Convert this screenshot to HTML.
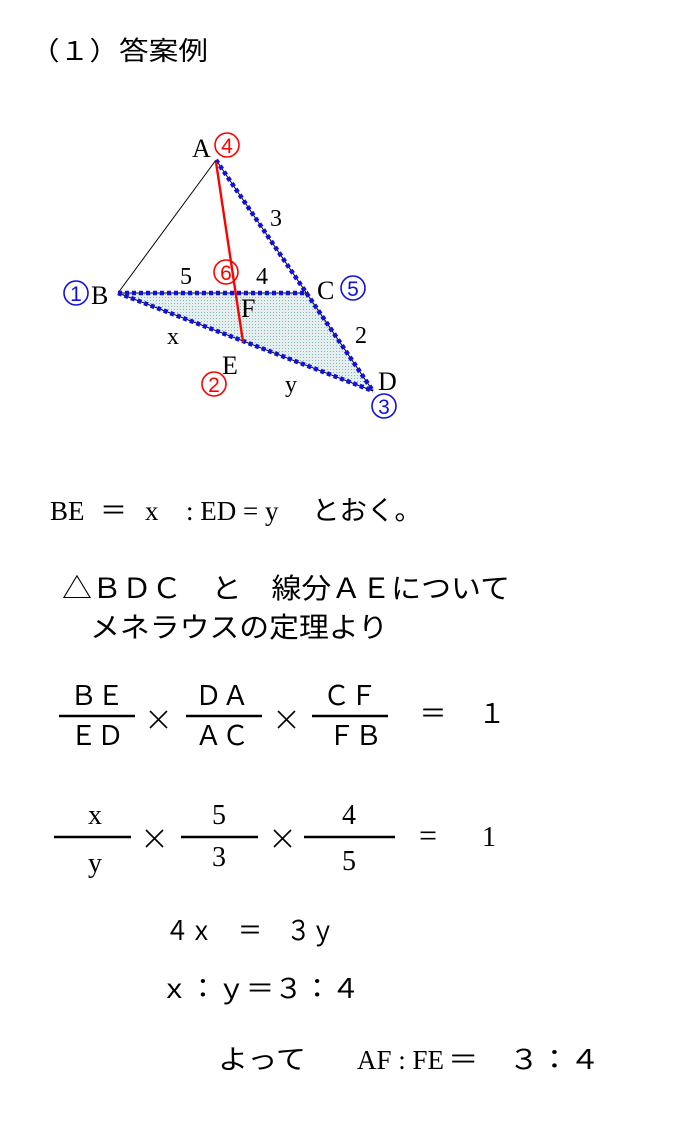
<!DOCTYPE html>
<html><head><meta charset="utf-8"><style>
html,body{margin:0;padding:0;background:#fff;}
svg{display:block;}
.j{font-family:"Liberation Sans","Noto Sans CJK JP",sans-serif;}
.s{font-family:"Liberation Serif","Noto Serif CJK SC",serif;}
</style></head><body>
<svg width="700" height="1126" viewBox="0 0 700 1126" xmlns="http://www.w3.org/2000/svg">
<defs>
<pattern id="dots" width="3" height="3" patternUnits="userSpaceOnUse">
<rect width="3" height="3" fill="#e6eeee"/><rect width="1" height="1" fill="#7fb8c0"/>
</pattern>
</defs>
<text class="j" x="30" y="60" font-size="26" textLength="178" lengthAdjust="spacingAndGlyphs">（１）答案例</text>

<!-- diagram -->
<polygon points="118,293 308,293 373,391 243,342" fill="url(#dots)"/>
<line x1="118" y1="293" x2="216" y2="160" stroke="#000" stroke-width="1"/>
<g stroke="#000" stroke-width="1">
<line x1="216" y1="160" x2="373" y2="391"/>
<line x1="118" y1="293" x2="308" y2="293"/>
<line x1="118" y1="293" x2="373" y2="391"/>
</g>
<g stroke="#1010e0" stroke-width="4.5" stroke-dasharray="4,3" fill="none">
<line x1="216" y1="160" x2="373" y2="391"/>
<line x1="118" y1="293" x2="308" y2="293"/>
<line x1="118" y1="293" x2="373" y2="391"/>
</g>
<line x1="216" y1="162" x2="243" y2="342" stroke="#f00" stroke-width="2.4"/>

<g class="s" font-size="26">
<text x="192" y="157">A</text>
<text x="91" y="304">B</text>
<text x="317" y="299">C</text>
<text x="378" y="390">D</text>
<text x="222" y="374">E</text>
<text x="241" y="317">F</text>
<text x="270" y="226" font-size="24">3</text>
<text x="180" y="284" font-size="24">5</text>
<text x="256" y="284" font-size="24">4</text>
<text x="355" y="343" font-size="24">2</text>
<text x="167" y="344" font-size="24">x</text>
<text x="285" y="392" font-size="24">y</text>
</g>
<g fill="none" stroke-width="1.6">
<circle cx="227" cy="145" r="12" stroke="#f00"/>
<circle cx="226" cy="272" r="12" stroke="#f00"/>
<circle cx="214" cy="384" r="12" stroke="#f00"/>
<circle cx="76" cy="293" r="12" stroke="#1010e0"/>
<circle cx="353" cy="288" r="12" stroke="#1010e0"/>
<circle cx="384" cy="406" r="12" stroke="#1010e0"/>
</g>
<g class="j" font-size="21" text-anchor="middle">
<text x="227" y="153" fill="#f00">4</text>
<text x="226" y="280" fill="#f00">6</text>
<text x="214" y="392" fill="#f00">2</text>
<text x="76" y="301" fill="#1010e0">1</text>
<text x="353" y="296" fill="#1010e0">5</text>
<text x="384" y="414" fill="#1010e0">3</text>
</g>

<!-- text -->
<text class="s" x="50" y="520" font-size="27">BE</text>
<text class="j" x="100" y="520" font-size="27">＝</text>
<text class="s" x="145" y="520" font-size="27">x</text>
<text class="s" x="186" y="520" font-size="27">: ED = y</text>
<text class="j" x="312" y="520" font-size="27" textLength="110" lengthAdjust="spacingAndGlyphs">とおく。</text>

<text class="j" x="62" y="598" font-size="28" textLength="448" lengthAdjust="spacingAndGlyphs">△ＢＤＣ　と　線分ＡＥについて</text>
<text class="j" x="90" y="637" font-size="28" textLength="298" lengthAdjust="spacingAndGlyphs">メネラウスの定理より</text>

<g class="j" font-size="27" text-anchor="middle">
<text x="97" y="705">ＢＥ</text>
<text x="97" y="745">ＥＤ</text>
<text x="222" y="705">ＤＡ</text>
<text x="222" y="745">ＡＣ</text>
<text x="350" y="705">ＣＦ</text>
<text x="355" y="745">ＦＢ</text>
<text x="433" y="723">＝</text>
<text x="492" y="723">１</text>
</g>
<g stroke="#000" stroke-width="1.6">
<path d="M150,711 L167,728 M167,711 L150,728"/>
<path d="M278,711 L295,728 M295,711 L278,728"/>
<path d="M146,830 L163,847 M163,830 L146,847"/>
<path d="M274,830 L291,847 M291,830 L274,847"/>
</g>
<g stroke="#000" stroke-width="2.5">
<line x1="59" y1="716" x2="135" y2="716"/>
<line x1="186" y1="716" x2="262" y2="716"/>
<line x1="312" y1="716" x2="388" y2="716"/>
<line x1="54" y1="837" x2="131" y2="837"/>
<line x1="181" y1="837" x2="258" y2="837"/>
<line x1="304" y1="837" x2="395" y2="837"/>
</g>
<g class="s" font-size="28" text-anchor="middle">
<text x="95" y="824">x</text>
<text x="95" y="872">y</text>
<text x="219" y="824">5</text>
<text x="219" y="866">3</text>
<text x="349" y="824">4</text>
<text x="349" y="870">5</text>
<text x="428" y="846" font-size="32">=</text>
<text x="489" y="846">1</text>
</g>

<text class="j" x="165" y="940" font-size="27" textLength="170" lengthAdjust="spacingAndGlyphs">４ｘ　＝　３ｙ</text>
<text class="j" x="160" y="998" font-size="27" textLength="200" lengthAdjust="spacingAndGlyphs">ｘ：ｙ＝３：４</text>
<text class="j" x="218" y="1069" font-size="27" textLength="88" lengthAdjust="spacingAndGlyphs">よって</text>
<text class="s" x="357" y="1069" font-size="27">AF : FE</text>
<text class="j" x="448" y="1069" font-size="27" textLength="152" lengthAdjust="spacingAndGlyphs">＝　３：４</text>
</svg>
</body></html>
